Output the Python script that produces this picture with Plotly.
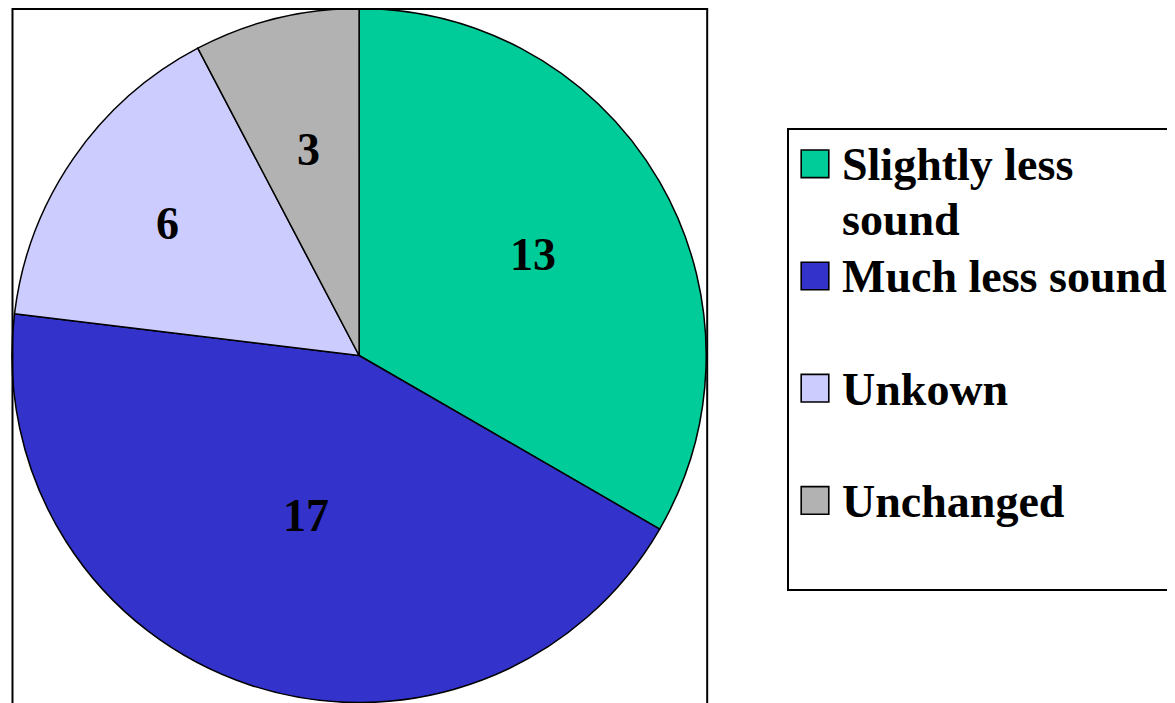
import math
import plotly.graph_objects as go

# ---- data ----
labels = ["Slightly less sound", "Much less sound", "Unkown", "Unchanged"]
values = [13, 17, 6, 3]

# ---- style ----
colors = ["#00CC99", "#3333CC", "#CCCCFF", "#B2B2B2"]
label_radius = [0.58, 0.485, 0.67, 0.61]   # radial position of value labels (fraction of R)

OFF = 8                      # page body margin of the html page
W, H = 1175 - OFF, 703 - OFF  # figure size so that the page is 1175x703
FONT = "Liberation Serif, Times New Roman, serif"

# pie placement (figure pixels)
PX0, PX1 = 12 - OFF, 708 - OFF
PY0, PY1 = 0, H
R = min(PX1 - PX0, PY1 - PY0) / 2
CX, CY = (PX0 + PX1) / 2, (PY0 + PY1) / 2


def legend_text(label):
    if label == "Slightly less sound":
        parts = ["Slightly less", "sound"]
    else:
        parts = [label, " "]
    return "<br>".join("<span style='font-size:46px'><b>%s</b></span>" % p for p in parts)


disp_labels = [legend_text(l) for l in labels]

fig = go.Figure(
    go.Pie(
        labels=disp_labels,
        values=values,
        sort=False,
        direction="clockwise",
        rotation=0,
        marker=dict(colors=colors, line=dict(color="black", width=1.5)),
        textinfo="none",
        domain=dict(x=[PX0 / W, PX1 / W], y=[1 - PY1 / H, 1 - PY0 / H]),
        hoverinfo="label+value",
    )
)

# value labels at the slice mid-angles
total = float(sum(values))
cum = 0.0
annotations = []
for v, rf in zip(values, label_radius):
    mid = (cum + v / 2.0) / total * 2 * math.pi
    cum += v
    px = CX + rf * R * math.sin(mid)
    py = CY - rf * R * math.cos(mid)
    annotations.append(
        dict(
            x=px / W,
            y=1 - py / H,
            xref="paper",
            yref="paper",
            text="<b>%d</b>" % v,
            showarrow=False,
            xanchor="center",
            yanchor="middle",
            font=dict(family=FONT, size=46, color="black"),
        )
    )

fig.update_layout(
    width=W,
    height=H,
    margin=dict(l=0, r=0, t=0, b=0),
    paper_bgcolor="white",
    plot_bgcolor="white",
    font=dict(family=FONT, color="black"),
    annotations=annotations,
    legend=dict(
        x=(789 - OFF) / W,
        y=1 - (128 - OFF) / H,
        xanchor="left",
        yanchor="top",
        bordercolor="black",
        borderwidth=2,
        bgcolor="white",
        font=dict(family=FONT, size=42, color="black"),
        valign="top",
        itemwidth=43,
    ),
    shapes=[
        dict(
            type="rect",
            xref="paper",
            yref="paper",
            x0=(12.5 - OFF) / W,
            x1=(709 - OFF) / W,
            y0=-0.05,
            y1=1 - 1 / H,
            line=dict(color="black", width=2),
            fillcolor="rgba(0,0,0,0)",
            layer="above",
        )
    ],
)

post = """
var gd = document.getElementsByClassName('plotly-graph-div')[0];
gd.querySelectorAll('.legendpoints path').forEach(function(p){
  p.setAttribute('transform', 'translate(26,0) scale(2.3)');
  p.style.strokeWidth = '0.7px';
});
"""

fig.write_html("out.html", post_script=post)
